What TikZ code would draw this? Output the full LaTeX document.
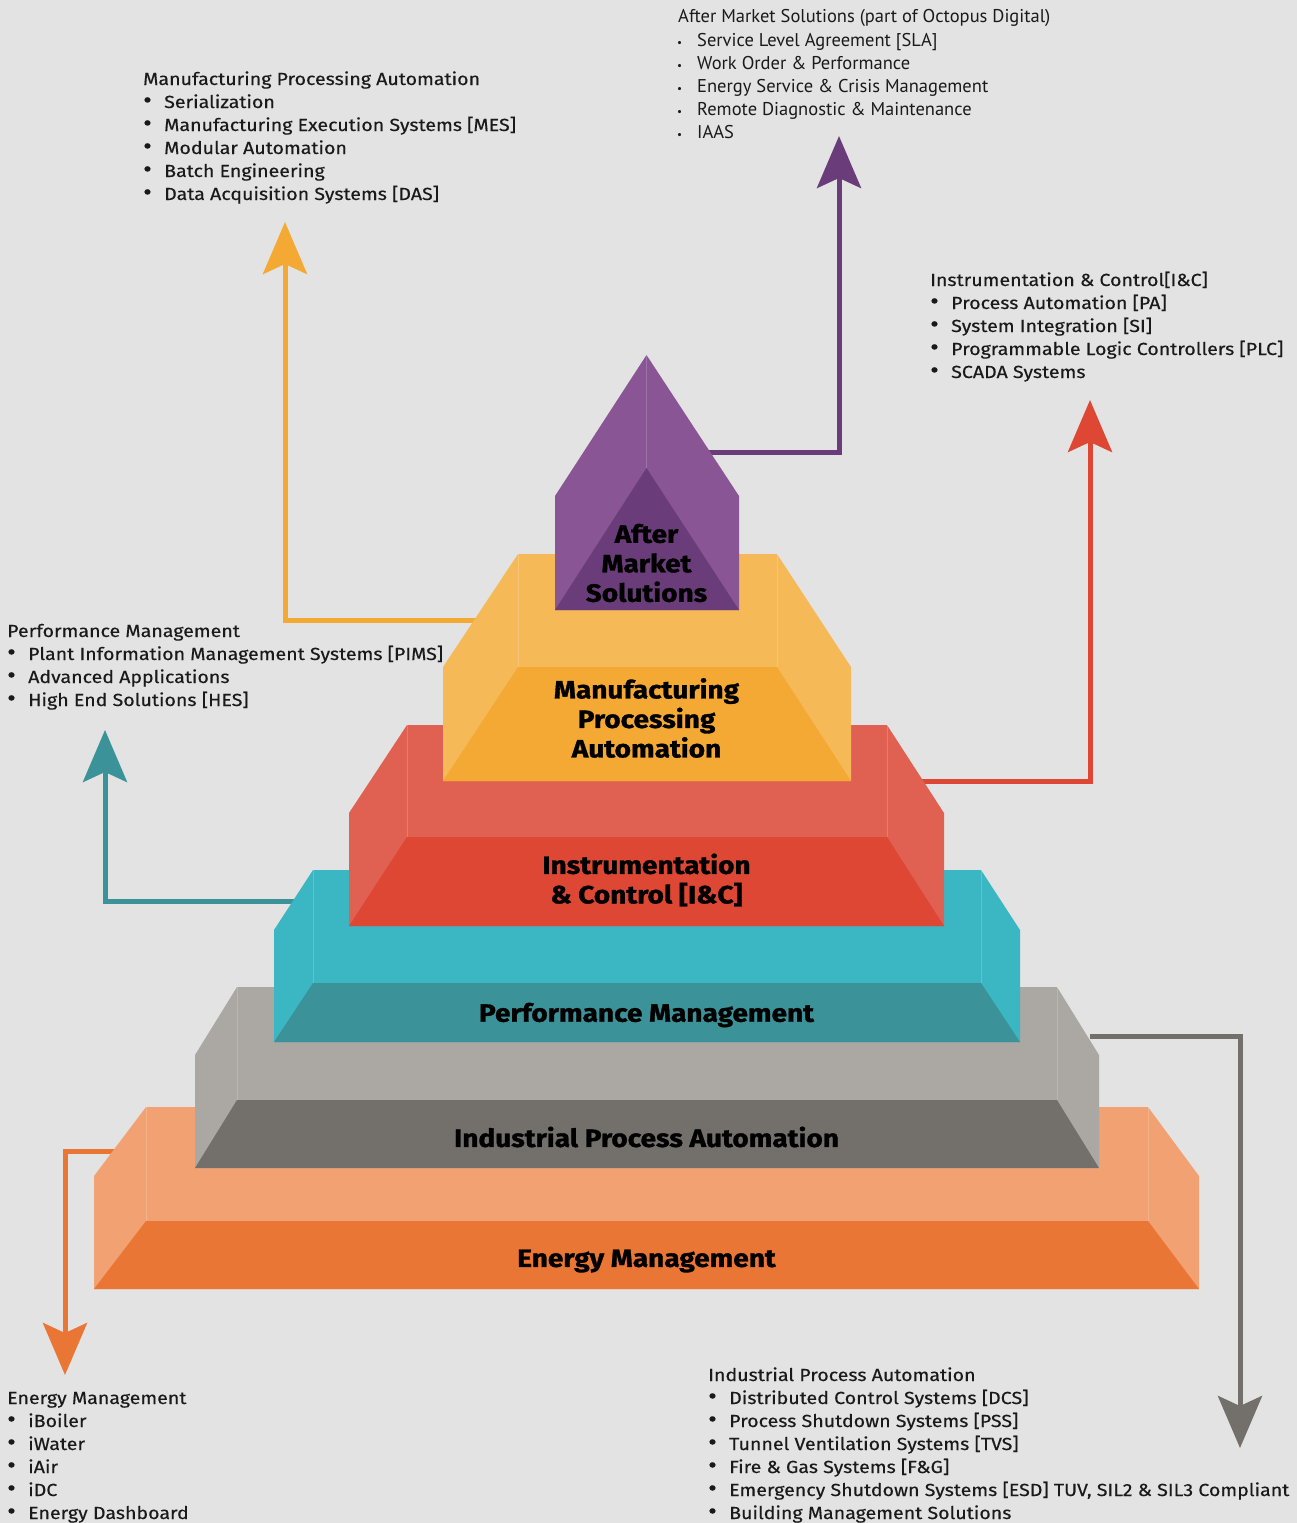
\documentclass[tikz,border=0pt]{standalone}
\usepackage{fontspec}
\setmainfont{Fira Sans}
\newfontfamily\listfont{Fira Sans}[FakeStretch=1.12,FakeBold=0.35]
\newfontfamily\amlistfont{PT Sans}
\newfontfamily\tierfont{Fira Sans}[FakeStretch=1.12,FakeBold=1.2]
\usetikzlibrary{arrows.meta}
\definecolor{bg}{HTML}{E3E3E3}
\definecolor{emL}{HTML}{F2A272}\definecolor{emD}{HTML}{E97635}
\definecolor{ipL}{HTML}{ABA7A3}\definecolor{ipD}{HTML}{736F6B}
\definecolor{pmL}{HTML}{3BB6C3}\definecolor{pmD}{HTML}{3B9298}
\definecolor{icL}{HTML}{E06052}\definecolor{icD}{HTML}{DD4733}
\definecolor{mpL}{HTML}{F6B957}\definecolor{mpD}{HTML}{F4A935}
\definecolor{amL}{HTML}{8A5595}\definecolor{amD}{HTML}{6A3C7A}
\definecolor{txt}{HTML}{1A1A1A}
\begin{document}
\begin{tikzpicture}[x=1pt,y=-1pt,
  conn/.style={line width=5pt,-{Stealth[length=52pt,width=44pt,inset=10pt]}},
  seam/.style={white,opacity=0.18,line width=0.8pt},
  tierlbl/.style={font=\tierfont\bfseries\fontsize{25}{29.5}\selectfont,align=center,inner sep=0pt,text=black},
  ltitle/.style={anchor=base west,inner sep=0pt,font=\listfont\fontsize{17.5}{23}\selectfont,text=txt},
  litem/.style={anchor=base west,inner sep=0pt,font=\listfont\fontsize{17.5}{23}\selectfont,text=txt,
     execute at begin node={\makebox[21pt][l]{\scalebox{1.35}{\textbullet}}}},
  amtitle/.style={anchor=base west,inner sep=0pt,font=\amlistfont\fontsize{18.5}{23}\selectfont,text=txt},
  amitem/.style={anchor=base west,inner sep=0pt,font=\amlistfont\fontsize{18.5}{23}\selectfont,text=txt,
     execute at begin node={\makebox[20pt][l]{\scalebox{0.6}{\textbullet}}}}
]
\fill[bg] (0,0) rectangle (1297,1523);
\useasboundingbox (0,0) rectangle (1297,1523);

% ---------- connectors (behind tiers) ----------
\coordinate (amS) at (700,452);  \coordinate (amE) at (839,136);
\coordinate (mpS) at (480,620);  \coordinate (mpE) at (285,222);
\coordinate (pmS) at (300,901);  \coordinate (pmE) at (105,730);
\coordinate (icS) at (915,781);  \coordinate (icE) at (1090,400);
\coordinate (ipS) at (1090,1036);\coordinate (ipE) at (1240,1448);
\coordinate (emS) at (120,1151); \coordinate (emE) at (65,1375);
\draw[conn,amD] (amS) -| (amE);
\draw[conn,mpD] (mpS) -| (mpE);
\draw[conn,pmD] (pmS) -| (pmE);
\draw[conn,icD] (icS) -| (icE);
\draw[conn,ipD] (ipS) -| (ipE);
\draw[conn,emD] (emS) -| (emE);

% ---------- Energy Management ----------
\fill[emL] (94,1289) -- (94,1176) -- (146,1107) -- (1148,1107) -- (1199,1176) -- (1199,1289) -- cycle;
\draw[seam] (146,1107) -- (146,1221) (1148,1107) -- (1148,1221);
\fill[emD] (94,1289) -- (146,1221) -- (1148,1221) -- (1199,1289) -- cycle;
% ---------- Industrial Process Automation ----------
\fill[ipL] (195,1168) -- (195,1055) -- (237,987) -- (1057,987) -- (1099,1055) -- (1099,1168) -- cycle;
\draw[seam] (237,987) -- (237,1100) (1057,987) -- (1057,1100);
\fill[ipD] (195,1168) -- (237,1100) -- (1057,1100) -- (1099,1168) -- cycle;
% ---------- Performance Management ----------
\fill[pmL] (274,1042) -- (274,930) -- (313,870) -- (981,870) -- (1020,930) -- (1020,1042) -- cycle;
\draw[seam] (313,870) -- (313,983) (981,870) -- (981,983);
\fill[pmD] (274,1042) -- (313,983) -- (981,983) -- (1020,1042) -- cycle;
% ---------- Instrumentation & Control ----------
\fill[icL] (349,926) -- (349,813) -- (407,725) -- (887,725) -- (944,813) -- (944,926) -- cycle;
\draw[seam] (407,725) -- (407,837) (887,725) -- (887,837);
\fill[icD] (349,926) -- (407,837) -- (887,837) -- (944,926) -- cycle;
% ---------- Manufacturing Processing Automation ----------
\fill[mpL] (443,781) -- (443,667) -- (518,554) -- (777,554) -- (851,667) -- (851,781) -- cycle;
\draw[seam] (518,554) -- (518,667) (777,554) -- (777,667);
\fill[mpD] (443,781) -- (518,667) -- (777,667) -- (851,781) -- cycle;
% ---------- After Market Solutions ----------
\fill[amL] (555,610) -- (555,496) -- (646.5,355) -- (739,496) -- (739,610) -- cycle;
\draw[seam] (646.5,355) -- (646.5,468);
\fill[amD] (555,610) -- (646.5,468) -- (739,610) -- cycle;

% ---------- tier labels ----------
\node[tierlbl] (amsL) at (646.5,563) {After\\Market\\Solutions};
\node[tierlbl] (mpaL) at (646.5,718) {Manufacturing\\Processing\\Automation};
\node[tierlbl] (icL1) at (646.5,880) {Instrumentation\\\& Control [I\&C]};
\node[tierlbl] (pmL1) at (646.5,1015) {Performance Management};
\node[tierlbl] (ipL1) at (646.5,1137) {Industrial Process Automation};
\node[tierlbl] (emL1) at (646.5,1261) {Energy Management};

% ---------- lists ----------
\node[amtitle] (amT) at (678,23) {After Market Solutions (part of Octopus Digital)};
\foreach \t [count=\i] in {Service Level Agreement [SLA],Work Order \& Performance,Energy Service \& Crisis Management,Remote Diagnostic \& Maintenance,IAAS}
  \node[amitem] (am\i) at (677,23+23*\i) {\t};

\node[ltitle] (mpT) at (143,85) {Manufacturing Processing Automation};
\foreach \t [count=\i] in {Serialization,Manufacturing Execution Systems [MES],Modular Automation,Batch Engineering,Data Acquisition Systems [DAS]}
  \node[litem] (mp\i) at (143,85+23*\i) {\t};

\node[ltitle] (icT) at (930,286) {Instrumentation \& Control[I\&C]};
\foreach \t [count=\i] in {Process Automation [PA],System Integration [SI],Programmable Logic Controllers [PLC],SCADA Systems}
  \node[litem] (ic\i) at (930,286+23*\i) {\t};

\node[ltitle] (pmT) at (7,637) {Performance Management};
\foreach \t [count=\i] in {Plant Information Management Systems [PIMS],Advanced Applications,High End Solutions [HES]}
  \node[litem] (pm\i) at (7,637+23*\i) {\t};

\node[ltitle] (ipT) at (708,1381) {Industrial Process Automation};
\foreach \t [count=\i] in {Distributed Control Systems [DCS],Process Shutdown Systems [PSS],Tunnel Ventilation Systems [TVS],Fire \& Gas Systems [F\&G],{Emergency Shutdown Systems [ESD] TUV, SIL2 \& SIL3 Compliant},Building Management Solutions}
  \node[litem] (ip\i) at (708,1381+23*\i) {\t};

\node[ltitle] (emT) at (7,1404) {Energy Management};
\foreach \t [count=\i] in {iBoiler,iWater,iAir,iDC,Energy Dashboard}
  \node[litem] (em\i) at (7,1404+23*\i) {\t};
\end{tikzpicture}
\end{document}
